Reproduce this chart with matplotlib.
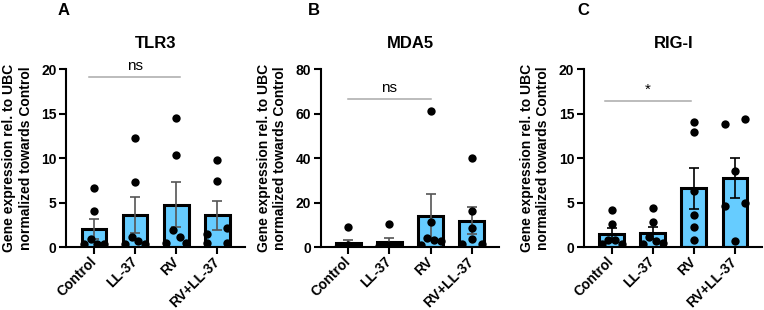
import numpy as np
import matplotlib
matplotlib.use('Agg')
import matplotlib.pyplot as plt

plt.rcParams['font.family'] = ['Liberation Sans', 'DejaVu Sans']

groups = ['Control', 'LL-37', 'RV', 'RV+LL-37']

# TLR3 (panel A)
tlr3_pts = [[6.63, 4.1, 0.87, 0.3, 0.3, 0.3],
            [12.2, 7.27, 1.17, 0.72, 0.3, 0.3],
            [14.5, 10.3, 1.92, 1.17, 0.4, 0.4],
            [9.72, 7.42, 2.18, 1.43, 0.4, 0.4]]
tlr3_mean = [2.03, 3.6, 4.75, 3.55]
tlr3_sem = [1.1, 2.0, 2.5, 1.65]

# MDA5 (panel B)
mda5_pts = [[8.9, 0.8, 0.5, 0.3, 0.2, 0.2],
            [10.5, 0.8, 0.6, 0.5, 0.3, 0.3],
            [61.2, 11.3, 4.1, 3.0, 2.6, 1.0],
            [40.1, 16.1, 8.6, 3.5, 1.3, 1.3]]
mda5_mean = [1.7, 2.1, 13.9, 11.8]
mda5_sem = [1.6, 2.0, 9.7, 6.0]

# RIG-I (panel C)
rigi_pts = [[4.18, 2.6, 0.8, 0.75, 0.35, 0.3],
            [4.37, 2.86, 1.1, 0.7, 0.4, 0.3],
            [14.1, 12.96, 6.29, 3.58, 2.22, 0.79],
            [14.35, 13.8, 8.5, 4.9, 4.63, 0.64]]
rigi_mean = [1.45, 1.6, 6.6, 7.75]
rigi_sem = [0.68, 0.7, 2.3, 2.2]

panels = [
    ('A', 'TLR3', tlr3_pts, tlr3_mean, tlr3_sem, 20, 5, 'ns', (-0.12, 2.1), 19.1, '#555555'),
    ('B', 'MDA5', mda5_pts, mda5_mean, mda5_sem, 80, 20, 'ns', (0.0, 2.0), 66.4, '#555555'),
    ('C', 'RIG-I', rigi_pts, rigi_mean, rigi_sem, 20, 5, '*', (-0.17, 1.92), 16.4, 'black'),
]
lefts = [0.0870, 0.4198, 0.7644]
letter_x = [58, 308, 577]


def swarm(ax, vals, d=7.5, spread=20.0):
    # GraphPad-like spread of points that sit too close in y
    vals = np.asarray(vals, float)
    p0 = ax.transData.transform((0, 0))
    p1 = ax.transData.transform((1, 1))
    xpx, ypx = p1[0] - p0[0], p1[1] - p0[1]
    order = np.argsort(vals, kind='stable')
    rows = [[order[0]]]
    for i in order[1:]:
        if (vals[i] - vals[rows[-1][-1]]) * ypx < d:
            rows[-1].append(i)
        else:
            rows.append([i])
    offs = np.zeros(len(vals))
    for r in rows:
        if len(r) < 2:
            continue
        slots = sorted(np.linspace(-spread / 2, spread / 2, len(r)), key=lambda s: -abs(s))
        for idx, s in zip(r, slots):
            offs[idx] = s / xpx
    return offs


fig = plt.figure(figsize=(7.64, 3.10), dpi=100)
x = np.arange(len(groups))

for k, (let, gene, pts, mean, sem, ymax, ystep, sig, sx, sy, ecol) in enumerate(panels):
    ax = fig.add_axes([lefts[k], 0.2032, 0.2336, 0.5742])
    ax.set_xlim(-0.67, 3.67)
    ax.set_ylim(0, ymax)
    ax.bar(x, mean, width=0.6, color='#66CCFF', edgecolor='black', linewidth=2.2, zorder=2)
    ax.errorbar(x, mean, yerr=sem, fmt='none', ecolor=ecol, elinewidth=1.2,
                capsize=3.6, capthick=1.2, zorder=3)
    for i, p in enumerate(pts):
        offs = swarm(ax, p)
        ax.scatter(x[i] + offs, p, s=36, color='black', linewidths=0, zorder=4)

    ax.plot(sx, [sy, sy], color='#aaaaaa', lw=1.1, clip_on=False, zorder=1)
    ax.text(np.mean(sx), sy + ymax * 0.022, sig, ha='center', va='bottom', fontsize=11)

    for s in ['top', 'right']:
        ax.spines[s].set_visible(False)
    for s in ['left', 'bottom']:
        ax.spines[s].set_linewidth(1.5)
    ax.set_yticks(np.arange(0, ymax + 1, ystep))
    ax.set_xticks(x)
    ax.set_xticklabels(groups, rotation=45, ha='right', va='center',
                       rotation_mode='anchor')
    ax.tick_params(width=1.5, length=5, labelsize=10, pad=2)
    ax.tick_params(axis='x', pad=4)
    for t in ax.get_xticklabels() + ax.get_yticklabels():
        t.set_fontweight('bold')
    ax.set_ylabel('Gene expression rel. to UBC\nnormalized towards Control',
                  fontsize=10, fontweight='bold')
    ax.yaxis.set_label_coords(-0.19, 0.5)
    ax.set_title(gene, fontsize=12, fontweight='bold', pad=15)
    fig.text(letter_x[k] / 764, 1 - 3 / 310, let, fontsize=12, fontweight='bold',
             ha='left', va='top')

fig.savefig('out.png', dpi=100)
